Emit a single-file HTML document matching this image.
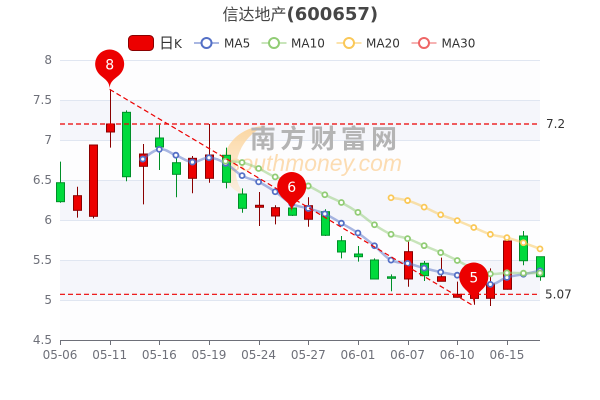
<!DOCTYPE html>
<html><head><meta charset="utf-8">
<style>
html,body{margin:0;padding:0;background:#fff;width:600px;height:400px;overflow:hidden}
svg{display:block}
</style></head>
<body>
<svg id="c" width="600" height="400" viewBox="0 0 600 400" xmlns="http://www.w3.org/2000/svg" font-family="'DejaVu Sans','Liberation Sans','Noto Sans CJK SC',sans-serif">
<defs>
<linearGradient id="cr" x1="0" y1="0" x2="0" y2="1">
<stop offset="0" stop-color="#fbd49c" stop-opacity="0.95"/>
<stop offset="1" stop-color="#fde6c6" stop-opacity="0.55"/>
</linearGradient>
</defs>
<!-- bands -->
<rect x="60" y="60" width="480" height="40" fill="#fdfdfe"/>
<rect x="60" y="100" width="480" height="40" fill="#f5f6fb"/>
<rect x="60" y="140" width="480" height="40" fill="#fdfdfe"/>
<rect x="60" y="180" width="480" height="40" fill="#f5f6fb"/>
<rect x="60" y="220" width="480" height="40" fill="#fdfdfe"/>
<rect x="60" y="260" width="480" height="40" fill="#f5f6fb"/>
<rect x="60" y="300" width="480" height="40" fill="#fdfdfe"/>
<g stroke="#e0e6f1" stroke-width="1">
<line x1="60" y1="60.5" x2="540" y2="60.5"/>
<line x1="60" y1="100.5" x2="540" y2="100.5"/>
<line x1="60" y1="140.5" x2="540" y2="140.5"/>
<line x1="60" y1="180.5" x2="540" y2="180.5"/>
<line x1="60" y1="220.5" x2="540" y2="220.5"/>
<line x1="60" y1="260.5" x2="540" y2="260.5"/>
<line x1="60" y1="300.5" x2="540" y2="300.5"/>
</g>
<!-- watermark -->
<g>
<path d="M266,126 C240,126 223,145 223,166 C223,181 232,191 245,195 C236,184 234,172 237,160 C241,143 252,131 266,126 Z" fill="url(#cr)"/>
<text x="250" y="148" font-size="26" font-weight="bold" fill="#b4b4b4" textLength="147" lengthAdjust="spacing" font-family="'Noto Sans CJK SC',sans-serif">南方财富网</text>
<text x="229" y="171" font-size="23" font-style="italic" fill="#fcdcb2" textLength="173" lengthAdjust="spacingAndGlyphs" font-family="'Liberation Sans',sans-serif">southmoney.com</text>
</g>
<!-- axis -->
<line x1="60" y1="340.5" x2="540" y2="340.5" stroke="#6e7079" stroke-width="1"/>
<g id="ticks" stroke="#6e7079" stroke-width="1"></g>
<g font-size="12" fill="#6e7079" text-anchor="end">
<text x="52" y="64">8</text>
<text x="52" y="104">7.5</text>
<text x="52" y="144">7</text>
<text x="52" y="184">6.5</text>
<text x="52" y="224">6</text>
<text x="52" y="264">5.5</text>
<text x="52" y="304">5</text>
<text x="52" y="344">4.5</text>
</g>
<g id="xl" font-size="12" fill="#6e7079" text-anchor="middle"></g>
<g id="candles"></g>
<g id="mas"></g>
<g id="marks"></g>
<!-- title -->
<text x="222.5" y="20" fill="#464646"><tspan font-size="16" font-family="'Noto Sans CJK SC',sans-serif">信达地产</tspan><tspan font-size="18" font-weight="bold" font-family="'DejaVu Sans',sans-serif">(600657)</tspan></text>
<!-- legend -->
<rect x="128.5" y="35.5" width="25" height="15" rx="4" fill="#ec0000" stroke="#8a0000" stroke-width="1"/>
<text x="159" y="48" font-size="12" fill="#333"><tspan font-family="'Noto Sans CJK SC',sans-serif" font-size="15">日</tspan><tspan>K</tspan></text>
<g stroke-width="2">
<line x1="194" y1="43" x2="219" y2="43" stroke="#5470c6" stroke-opacity="0.5"/>
<circle cx="206.5" cy="43" r="5" fill="#fff" stroke="#5470c6"/>
<line x1="261.5" y1="43" x2="286.5" y2="43" stroke="#91cc75" stroke-opacity="0.5"/>
<circle cx="274" cy="43" r="5" fill="#fff" stroke="#91cc75"/>
<line x1="336.5" y1="43" x2="361.5" y2="43" stroke="#fac858" stroke-opacity="0.5"/>
<circle cx="349" cy="43" r="5" fill="#fff" stroke="#fac858"/>
<line x1="411.5" y1="43" x2="436.5" y2="43" stroke="#ee6666" stroke-opacity="0.5"/>
<circle cx="424" cy="43" r="5" fill="#fff" stroke="#ee6666"/>
</g>
<g font-size="12" fill="#333">
<text x="224" y="47.5">MA5</text>
<text x="291" y="47.5">MA10</text>
<text x="366" y="47.5">MA20</text>
<text x="441.5" y="47.5">MA30</text>
</g>
</svg>
<script>
(function(){
var NS="http://www.w3.org/2000/svg";
function el(tag,attrs,parent,txt){var e=document.createElementNS(NS,tag);for(var k in attrs)e.setAttribute(k,attrs[k]);if(txt!==undefined)e.textContent=txt;parent.appendChild(e);return e;}
var D=[
[6.466,6.229,6.216,6.729],[6.121,6.304,6.029,6.416],[6.046,6.9375,6.021,6.94],[7.10,7.20,6.904,7.633],
[7.346,6.541,6.484,7.37],[6.671,6.825,6.196,6.95],[7.025,6.9125,6.625,7.19],[6.716,6.571,6.284,6.771],
[6.521,6.771,6.334,6.80],[6.521,6.8125,6.466,7.20],[6.809,6.471,6.396,6.904],[6.325,6.146,6.09,6.396],
[6.159,6.184,5.925,6.35],[6.05,6.154,5.946,6.184],[6.15,6.059,6.05,6.16],[6.009,6.179,5.916,6.284],
[6.104,5.809,5.80,6.134],[5.741,5.60,5.521,5.80],[5.575,5.541,5.479,5.675],[5.50,5.2625,5.26,5.52],
[5.29,5.28,5.11,5.32],[5.2625,5.604,5.166,5.79],[5.459,5.304,5.2375,5.4875],[5.234,5.291,5.234,5.53],
[5.034,5.071,5.03,5.23],[5.02,5.11,4.94,5.12],[5.021,5.20,4.925,5.396],[5.134,5.7375,5.13,5.74],
[5.80,5.491,5.434,5.8625],[5.541,5.291,5.24,5.54]];
function X(i){return 60+i*480/29;}
function Y(v){return 60+(8-v)*80;}
var labels=["05-06","05-11","05-16","05-19","05-24","05-27","06-01","06-07","06-10","06-15"];
var tk=document.getElementById("ticks"),xl=document.getElementById("xl");
for(var t=0;t<10;t++){var x=Math.round(X(t*3))+0.5;el("line",{x1:x,y1:340,x2:x,y2:345},tk);el("text",{x:X(t*3),y:359},xl,labels[t]);}
var cg=document.getElementById("candles");
D.forEach(function(d,i){
 var o=d[0],c=d[1],l=d[2],h=d[3];var up=c>=o;
 var x=Math.round(X(i))+0.5;
 var fill=up?"#ec0000":"#00da3c",st=up?"#8a0000":"#008f28";
 el("line",{x1:x,y1:Y(h),x2:x,y2:Y(l),stroke:st,"stroke-width":1},cg);
 var yt=Y(Math.max(o,c)),yb=Y(Math.min(o,c));if(yb-yt<1.5){yb=yt+1.5;}
 el("rect",{x:x-4,y:yt,width:8,height:yb-yt,fill:fill,stroke:st,"stroke-width":1},cg);
});
function ma(n){var r=[];for(var i=0;i<D.length;i++){if(i<n){r.push(null);continue;}var s=0;for(var j=0;j<n;j++)s+=D[i-j][1];r.push(s/n);}return r;}
var mg=document.getElementById("mas");
[[5,"#5470c6"],[10,"#91cc75"],[20,"#fac858"],[30,"#ee6666"]].forEach(function(m){
 var v=ma(m[0]);var P=[];for(var i=0;i<v.length;i++)if(v[i]!==null)P.push([X(i),Y(v[i])]);
 if(P.length===0)return;
 var s=0.2;var d="M"+P[0][0]+","+P[0][1];
 for(var k=0;k<P.length-1;k++){
  var p0=P[k-1]||P[k],p1=P[k],p2=P[k+1],p3=P[k+2]||P[k+1];
  var c1x=p1[0]+(p2[0]-p0[0])*s,c1y=p1[1]+(p2[1]-p0[1])*s;
  var c2x=p2[0]-(p3[0]-p1[0])*s,c2y=p2[1]-(p3[1]-p1[1])*s;
  d+=" C"+c1x+","+c1y+" "+c2x+","+c2y+" "+p2[0]+","+p2[1];
 }
 if(P.length>1)el("path",{d:d,fill:"none",stroke:m[1],"stroke-width":2.5,"stroke-opacity":0.5},mg);
 P.forEach(function(p){el("circle",{cx:p[0],cy:p[1],r:2.5,fill:"#fff",stroke:m[1],"stroke-width":1.8},mg);});
});
var mk=document.getElementById("marks");
var dash={stroke:"#ec0000","stroke-width":1.2,"stroke-dasharray":"5,3",fill:"none"};
function ln(a){var o={};for(var k in dash)o[k]=dash[k];for(var k2 in a)o[k2]=a[k2];el("line",o,mk);}
ln({x1:60,y1:Y(7.2),x2:540,y2:Y(7.2)});
ln({x1:60,y1:Y(5.071),x2:540,y2:Y(5.071)});
ln({x1:X(3),y1:Y(7.633),x2:X(25),y2:306});
el("text",{x:546,y:Y(7.2)+4,"font-size":12,fill:"#333"},mk,"7.2");
el("text",{x:545,y:Y(5.071)+4,"font-size":12,fill:"#333"},mk,"5.07");
function pin(cx,cy,r,Dd,label){
 var u=(Dd+Math.sqrt(Dd*Dd+4*r*r))/2;var dy=r*r/u;var ang=Math.asin(dy/r);var dx=Math.cos(ang)*r;
 var tx=Math.sin(ang),ty=Math.cos(ang);var cp=r*0.6,cp2=r*0.7;var tip=cy+Dd;
 var d="M"+(cx-dx)+","+(cy+dy)+" A"+r+","+r+" 0 1 1 "+(cx+dx)+","+(cy+dy)+
 " C"+(cx+dx-tx*cp)+","+(cy+dy+ty*cp)+" "+cx+","+(tip-cp2)+" "+cx+","+tip+
 " C"+cx+","+(tip-cp2)+" "+(cx-dx+tx*cp)+","+(cy+dy+ty*cp)+" "+(cx-dx)+","+(cy+dy)+" Z";
 el("path",{d:d,fill:"#ec0000"},mk);
 el("text",{x:cx,y:cy+5.5,"font-size":14,fill:"#fff","text-anchor":"middle"},mk,label);
}
pin(X(3),64,14.5,25,"8");
pin(X(14),186.5,14.5,26,"6");
pin(X(25),277,14.5,27,"5");
})();
</script>
</body></html>
